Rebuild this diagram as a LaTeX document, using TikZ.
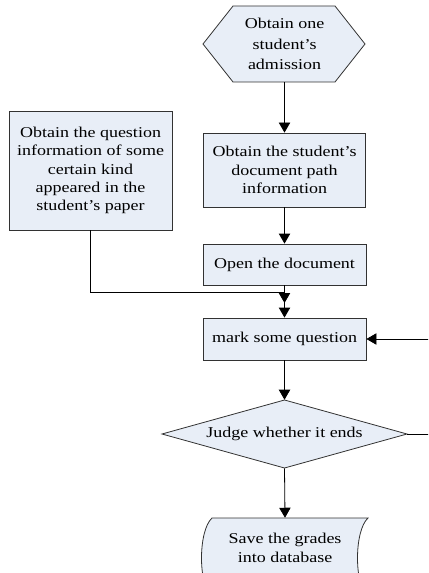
\documentclass[tikz,border=0pt]{standalone}
\usepackage{fontspec}
\setmainfont[FakeStretch=1.2]{Liberation Serif}
\usetikzlibrary{arrows.meta}
\definecolor{boxfill}{RGB}{232,238,247}
\definecolor{edgegray}{RGB}{50,50,50}
\begin{document}
\begin{tikzpicture}[x=0.75pt,y=-0.75pt,
  lbl/.style={inner sep=0pt, align=center, font=\fontsize{11.25}{13.8}\selectfont},
  box/.style={lbl, draw=edgegray, fill=boxfill, line width=0.6pt},
  shp/.style={draw=edgegray, fill=boxfill, line width=0.6pt},
  arr/.style={-{Triangle[width=8.5pt,length=7.5pt]}, line width=0.6pt},
  ln/.style={line width=0.6pt}]
\clip (0,0) rectangle (428,573);
% start hexagon
\filldraw[shp] (203,44) -- (233,6) -- (335,6) -- (365,44) -- (335,82) -- (233,82) -- cycle;
\node[lbl, minimum width=121.5pt, minimum height=57pt, font=\fontsize{11.25}{15.5}\selectfont] (hex) at (284.5,44) {Obtain one\\student’s\\admission};
% boxes
\node[box, minimum width=121.5pt, minimum height=55.5pt] (path) at (284.5,170) {Obtain the student’s\\document path\\information};
\node[box, minimum width=122.25pt, minimum height=89.25pt] (left) at (90.5,170.5) {Obtain the question\\information of some\\certain kind\\appeared in the\\student’s paper};
\node[box, minimum width=122.25pt, minimum height=30.75pt] (open) at (284.5,264.5) {Open the document};
\node[box, minimum width=122.25pt, minimum height=31.5pt] (mark) at (284.5,339) {mark some question};
% diamond
\filldraw[shp] (162,434) -- (284.5,400) -- (407,434) -- (284.5,468) -- cycle;
\node[lbl, minimum width=183.75pt, minimum height=51pt] (dia) at (284.5,434) {Judge whether it ends};
% stored data
\filldraw[shp] (212,518) -- (368,518) .. controls (354,531) and (354,585) .. (368,598) -- (212,598) .. controls (198,585) and (198,531) .. (212,518) -- cycle;
\node[lbl, minimum width=117pt, minimum height=45pt] (save) at (285,548) {Save the grades\\into database};
% connectors
\coordinate (j) at (284.5,292);
\coordinate (j2) at (284.5,303);
\draw[arr] (hex.south) -- (path.north);
\draw[arr] (path.south) -- (open.north);
\draw[arr] (open.south) -- (j2);
\draw[arr] (left.south) |- (j) -- (mark.north);
\draw[arr] (mark.south) -- (dia.north);
\draw[arr] (dia.south) -- (save.north);
\draw[arr] (dia.east) -- ++(40,0) |- (mark.east);
\end{tikzpicture}
\end{document}
